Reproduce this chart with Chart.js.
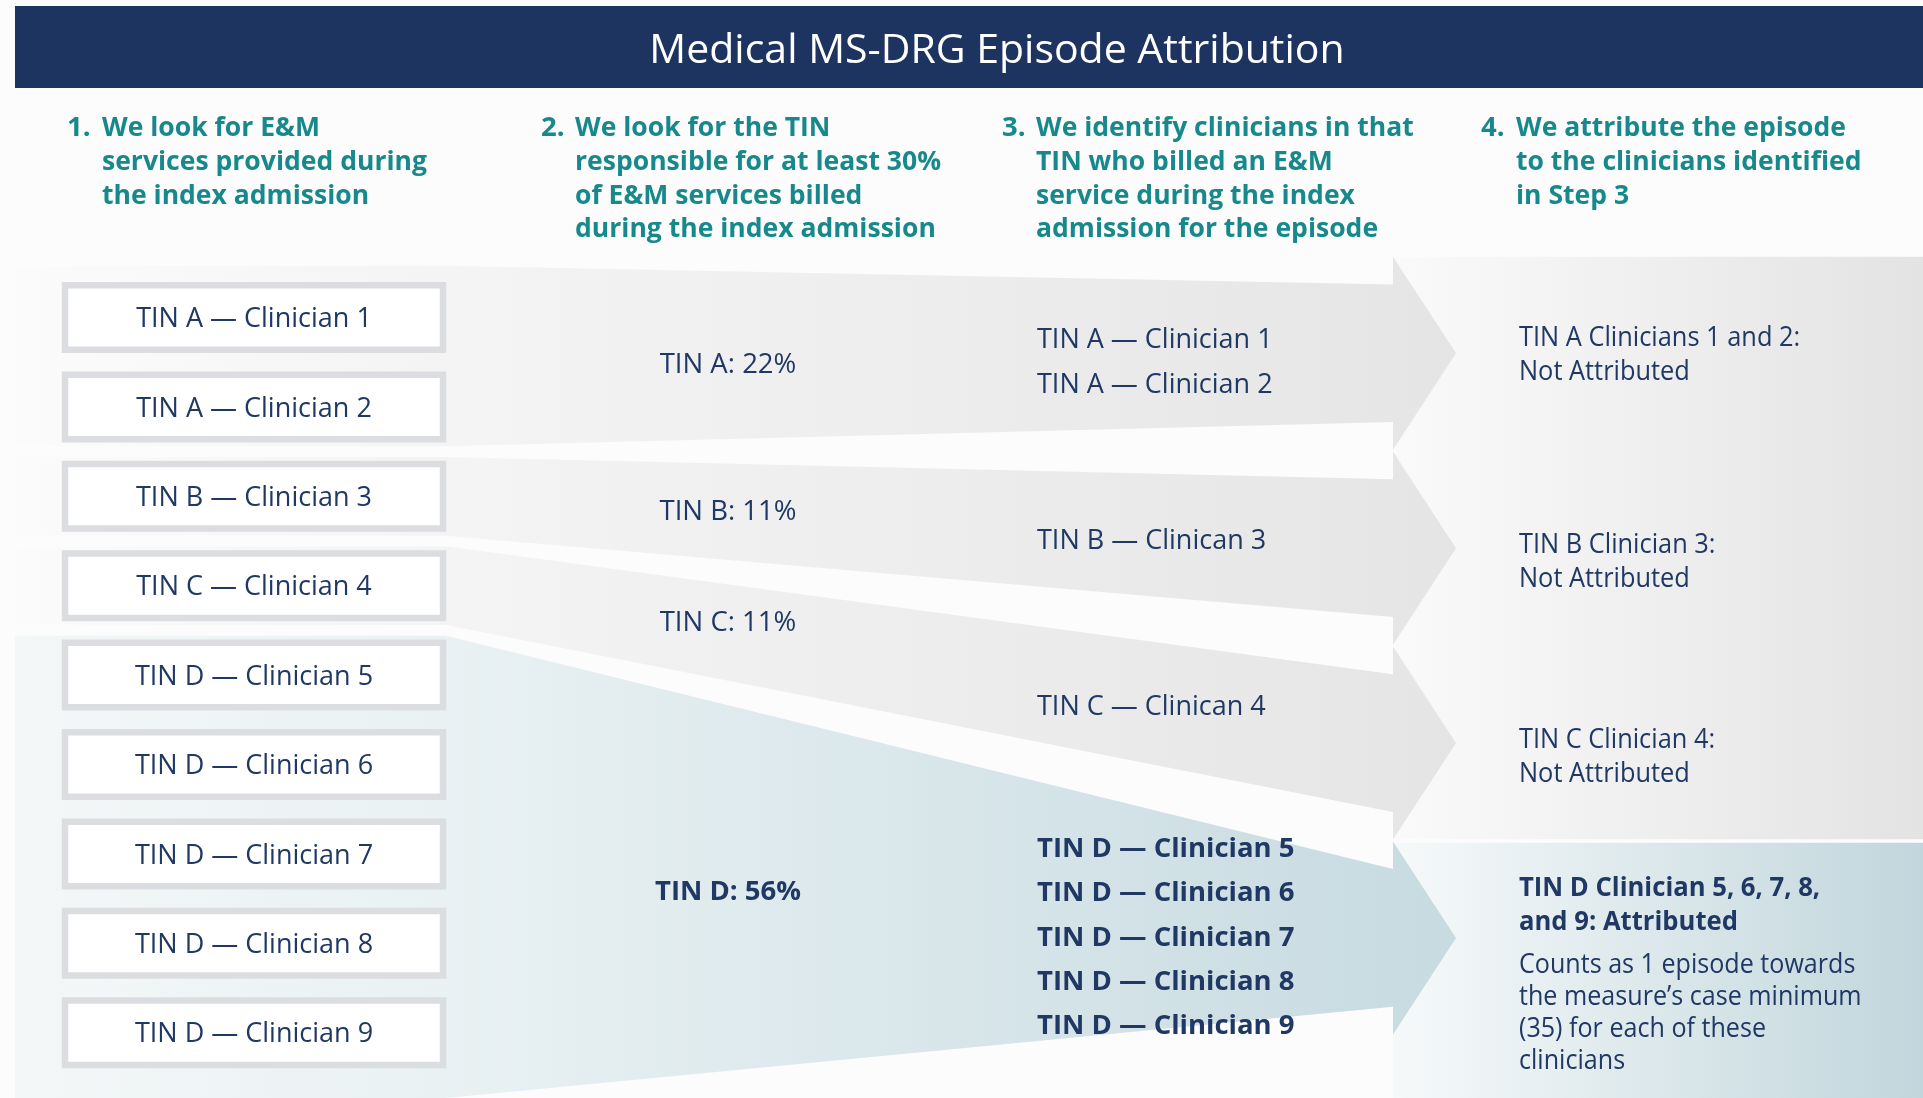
<!DOCTYPE html>
<html><head><meta charset="utf-8">
<script src="https://cdn.jsdelivr.net/npm/chart.js@4.4.1/dist/chart.umd.min.js"></script>
<style>html,body{margin:0;padding:0;background:#fcfcfc;overflow:hidden}canvas{display:block}</style>
</head><body>
<canvas id="c" width="1923" height="1098"></canvas>
<script>
// ---------------- DATA ----------------
const chartTitle = 'Medical MS-DRG Episode Attribution';
const stepNumbers = ['1.', '2.', '3.', '4.'];
const threshold = 30;
const stepTexts = [
  ['We look for E&M', 'services provided during', 'the index admission'],
  ['We look for the TIN', 'responsible for at least ' + threshold + '%', 'of E&M services billed', 'during the index admission'],
  ['We identify clinicians in that', 'TIN who billed an E&M', 'service during the index', 'admission for the episode'],
  ['We attribute the episode', 'to the clinicians identified', 'in Step 3']
];
const tinKeys = ['A', 'B', 'C', 'D'];
const tinShares = [22, 11, 11, 56];
const clinicianNums = [1, 2, 3, 4, 5, 6, 7, 8, 9];
const clinicianTin = ['A', 'A', 'B', 'C', 'D', 'D', 'D', 'D', 'D'];
const step3Lists = [
  ['TIN A — Clinician 1', 'TIN A — Clinician 2'],
  ['TIN B — Clinican 3'],
  ['TIN C — Clinican 4'],
  ['TIN D — Clinician 5', 'TIN D — Clinician 6', 'TIN D — Clinician 7', 'TIN D — Clinician 8', 'TIN D — Clinician 9']
];
const step4Heads = [
  ['TIN A Clinicians 1 and 2:', 'Not Attributed'],
  ['TIN B Clinician 3:', 'Not Attributed'],
  ['TIN C Clinician 4:', 'Not Attributed'],
  ['TIN D Clinician 5, 6, 7, 8,', 'and 9: Attributed']
];
const step4Notes = [[], [], [], ['Counts as 1 episode towards', 'the measure’s case minimum', '(35) for each of these', 'clinicians']];

// ---------------- LAYOUT / STYLE ----------------
const L = {
  W: 1923, H: 1098, row0px: 317.5, rowPx: 89.4,
  xFade: 15, xBoxL: 65, xBoxR: 443, xFlowL: 446, xFlowR: 1393, xTip: 1456, xRight: 1923,
  boxHalf: 0.361, gap: 0.06, topPad: 0.58,
  slot0: 0.40, slotPitch: 2.18, shaftHalf: 0.77, headHalf: 1.08,
  xCol2: 728, xCol3: 1037, xCol3Mid: 1150, xCol4: 1519,
  col2Shift: [10, 0, -9, 4], col3Shift: [9, 6, 5, 18], boxTextShift: 2,
  col3Pitch: 0.497, col4Offsets: [-14.5, -3, -3, -50], col4Pitch: 34, notePitch: 32, noteGap: 43,
  headNumX: [67, 541, 1002, 1481], headTextX: [102, 575, 1036, 1516], headY0: 128.5, headPitch: 33.6,
  titleX: 997, titleY: 51
};
const C = {
  navy: '#1f3864', bar: '#1e3460', teal: '#17898c', boxBorder: '#dcdde0',
  grayStops: [[15, '#fbfbfb'], [446, '#f4f4f4'], [1393, '#e6e6e6'], [1456, '#e4e4e4']],
  tealStops: [[15, '#f4f7f8'], [446, '#e9f1f3'], [1393, '#c9dce2'], [1456, '#c7dbe1']],
  panelGray: [[1393, '#fafafa'], [1923, '#e3e3e3']],
  panelTeal: [[1393, '#f6f9fa'], [1923, '#c1d6dc']]
};
const FONT = '"Open Sans", "Noto Sans", sans-serif';

const yMin = -L.row0px / L.rowPx;
const yMax = (L.H - L.row0px) / L.rowPx;

function hGrad(chart, stops, fallback) {
  const x = chart.scales && chart.scales.x;
  if (!x || !chart.chartArea) return fallback;
  const x0 = x.getPixelForValue(stops[0][0]);
  const x1 = x.getPixelForValue(stops[stops.length - 1][0]);
  const g = chart.ctx.createLinearGradient(x0, 0, x1, 0);
  stops.forEach(([v, col]) => g.addColorStop(Math.min(1, Math.max(0, (x.getPixelForValue(v) - x0) / (x1 - x0))), col));
  return g;
}

// band geometry derived from data
const slotCenter = i => L.slot0 + L.slotPitch * i;
function bandEdges(i) {
  const rows = clinicianTin.map((t, r) => t === tinKeys[i] ? r : null).filter(r => r !== null);
  const first = Math.min(...rows), last = Math.max(...rows);
  const lt = i === 0 ? first - L.topPad : first - 0.5 + L.gap;
  const lb = i === tinKeys.length - 1 ? yMax : last + 0.5 - L.gap;
  const c = slotCenter(i);
  return { lt, lb, rt: c - L.shaftHalf, rb: c + L.shaftHalf, c };
}
function bandShape(i) {
  const e = bandEdges(i);
  return [
    { x: L.xFade, y: e.lt }, { x: L.xFlowL, y: e.lt }, { x: L.xFlowR, y: e.rt }, { x: L.xFlowR, y: e.c - L.headHalf },
    { x: L.xTip, y: e.c }, { x: L.xFlowR, y: e.c + L.headHalf }, { x: L.xFlowR, y: e.rb },
    { x: L.xFlowL, y: e.lb }, { x: L.xFade, y: e.lb }
  ];
}
function bandCenterAt(i, xv) {
  const e = bandEdges(i);
  const t = Math.min(1, Math.max(0, (xv - L.xFlowL) / (L.xFlowR - L.xFlowL)));
  return ((e.lt + (e.rt - e.lt) * t) + (e.lb + (e.rb - e.lb) * t)) / 2;
}
function rect(x0, x1, y0, y1) {
  return [{ x: x0, y: y0 }, { x: x1, y: y0 }, { x: x1, y: y1 }, { x: x0, y: y1 }, { x: x0, y: y0 }, { x: x1, y: y0 }];
}

const attributed = tinShares.map(s => s >= threshold);
const datasets = [];
// right panels (step 4)
const panelSplit = (slotCenter(2) + slotCenter(3)) / 2;
datasets.push({ data: rect(L.xFlowR, L.xRight, slotCenter(0) - L.headHalf, panelSplit - 0.015), order: 40,
  backgroundColor: c => hGrad(c.chart, C.panelGray, '#eee') });
datasets.push({ data: rect(L.xFlowR, L.xRight, panelSplit + 0.025, yMax + 1), order: 40,
  backgroundColor: c => hGrad(c.chart, C.panelTeal, '#dde') });
// TIN flow bands
tinKeys.forEach((k, i) => {
  datasets.push({ data: bandShape(i), order: 30,
    backgroundColor: c => hGrad(c.chart, attributed[i] ? C.tealStops : C.grayStops, '#eee') });
});
// clinician boxes
clinicianNums.forEach((n, r) => {
  datasets.push({ data: rect(L.xBoxL, L.xBoxR, r - L.boxHalf, r + L.boxHalf), order: 10,
    backgroundColor: '#ffffff', borderColor: C.boxBorder, borderWidth: 6.5, borderJoinStyle: 'miter' });
});
datasets.forEach(d => {
  d.fill = 'shape'; d.pointRadius = 0; d.tension = 0;
  if (!d.borderWidth) { d.borderWidth = 0; d.borderColor = 'rgba(0,0,0,0)'; }
});

function txt(ctx, s, x, y, o) {
  ctx.save();
  ctx.font = (o.bold ? '700 ' : '400 ') + o.size + 'px ' + FONT;
  ctx.fillStyle = o.color || C.navy;
  ctx.textAlign = o.align || 'left';
  ctx.textBaseline = 'middle';
  const w = ctx.measureText(s).width * (o.cond || 1);
  ctx.fillText(s, x, y, w);
  ctx.restore();
}

const decor = {
  id: 'decor',
  beforeDatasetsDraw(chart) {
    const { ctx } = chart;
    ctx.save();
    ctx.fillStyle = C.bar;
    ctx.fillRect(15, 6, L.W - 15, 82);
    ctx.restore();
  },
  afterDatasetsDraw(chart) {
    const { ctx, scales: { x, y } } = chart;
    const px = v => x.getPixelForValue(v), py = v => y.getPixelForValue(v);
    txt(ctx, chartTitle, L.titleX, L.titleY, { size: 41, color: '#ffffff', align: 'center' });
    // step headings
    stepTexts.forEach((lines, i) => {
      txt(ctx, stepNumbers[i], L.headNumX[i], L.headY0, { size: 27.5, bold: true, color: C.teal });
      lines.forEach((s, j) => txt(ctx, s, L.headTextX[i], L.headY0 + j * L.headPitch, { size: 27.5, bold: true, color: C.teal, cond: 0.965 }));
    });
    // step 1 boxes
    clinicianNums.forEach((n, r) => {
      txt(ctx, 'TIN ' + clinicianTin[r] + ' — Clinician ' + n, px((L.xBoxL + L.xBoxR) / 2), py(r) + L.boxTextShift, { size: 27, align: 'center' });
    });
    // step 2 shares
    tinKeys.forEach((k, i) => {
      txt(ctx, 'TIN ' + k + ': ' + tinShares[i] + '%', px(L.xCol2), py(bandCenterAt(i, L.xCol2)) + L.col2Shift[i],
        { size: 27.5, bold: attributed[i], align: 'center' });
    });
    // step 3 lists
    step3Lists.forEach((list, i) => {
      const c = bandCenterAt(i, L.xCol3Mid);
      list.forEach((s, j) => {
        const yv = c + (j - (list.length - 1) / 2) * L.col3Pitch;
        txt(ctx, s, px(L.xCol3), py(yv) + L.col3Shift[i], { size: attributed[i] ? 27.5 : 27, bold: attributed[i] });
      });
    });
    // step 4
    step4Heads.forEach((lines, i) => {
      const y0 = py(slotCenter(i)) + L.col4Offsets[i];
      lines.forEach((s, j) => txt(ctx, s, px(L.xCol4), y0 + j * L.col4Pitch,
        { size: 27, bold: attributed[i], cond: attributed[i] ? 0.95 : 0.94 }));
      const n0 = y0 + (lines.length - 1) * L.col4Pitch + L.noteGap;
      step4Notes[i].forEach((s, j) => txt(ctx, s, px(L.xCol4), n0 + j * L.notePitch, { size: 27, cond: 0.93 }));
    });
  }
};

Chart.defaults.font.family = FONT;
new Chart(document.getElementById('c'), {
  type: 'line',
  data: { datasets },
  options: {
    responsive: false, animation: false, events: [],
    layout: { padding: 0 },
    plugins: { legend: { display: false }, tooltip: { enabled: false }, title: { display: false } },
    scales: {
      x: { type: 'linear', min: 0, max: L.W, display: false },
      y: { type: 'linear', min: yMin, max: yMax, reverse: true, display: false }
    }
  },
  plugins: [decor]
});
</script>
</body></html>
